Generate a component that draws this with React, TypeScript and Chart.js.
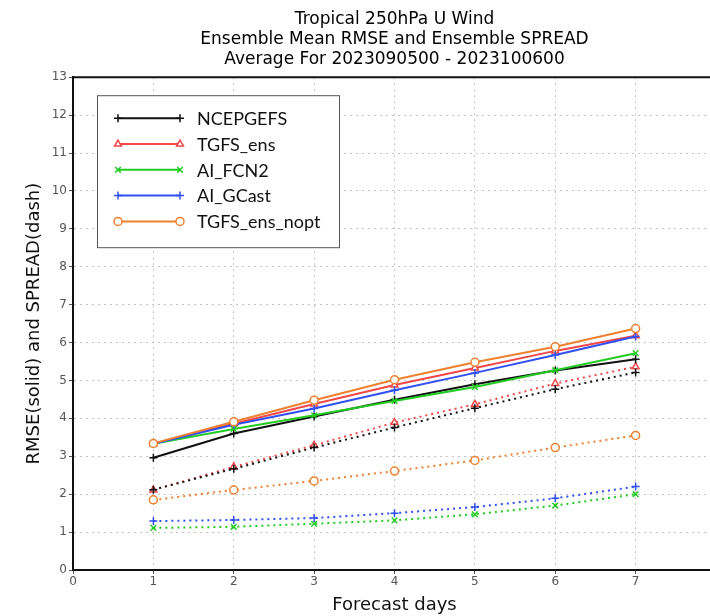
import React, { useEffect, useRef } from 'react';
import { Chart, registerables } from 'chart.js';
import { drawPoint } from 'chart.js/helpers';

Chart.register(...registerables);

const titleLines = [
  'Tropical 250hPa U Wind',
  'Ensemble Mean RMSE and Ensemble SPREAD',
  'Average For 2023090500 - 2023100600',
];
const xTitle = 'Forecast days';
const yTitle = 'RMSE(solid) and SPREAD(dash)';

const days = [1, 2, 3, 4, 5, 6, 7];
const xMin = 0;
const xMax = 8;
const yMin = 0;
const yMax = 13;

const names = ['NCEPGEFS', 'TGFS_ens', 'AI_FCN2', 'AI_GCast', 'TGFS_ens_nopt'];
const colors = ['#111111', '#f04848', '#22cc22', '#3050f0', '#ee8030'];
const markers = ['cross', 'triangle', 'crossRot', 'cross', 'circle'];
const hollow = [false, true, false, false, true];

// RMSE (solid)
const rmseNCEPGEFS = [2.96, 3.6, 4.05, 4.49, 4.9, 5.26, 5.56];
const rmseTGFSens = [3.33, 3.86, 4.38, 4.88, 5.33, 5.78, 6.18];
const rmseAIFCN2 = [3.33, 3.72, 4.08, 4.46, 4.83, 5.27, 5.72];
const rmseAIGCast = [3.33, 3.83, 4.26, 4.74, 5.2, 5.67, 6.16];
const rmseTGFSnopt = [3.34, 3.91, 4.48, 5.02, 5.48, 5.89, 6.37];

// SPREAD (dash)
const sprNCEPGEFS = [2.12, 2.67, 3.23, 3.76, 4.27, 4.77, 5.21];
const sprTGFSens = [2.11, 2.72, 3.29, 3.89, 4.37, 4.92, 5.36];
const sprAIFCN2 = [1.11, 1.14, 1.22, 1.31, 1.47, 1.7, 2.0];
const sprAIGCast = [1.29, 1.32, 1.37, 1.5, 1.66, 1.89, 2.2];
const sprTGFSnopt = [1.85, 2.11, 2.35, 2.61, 2.89, 3.23, 3.55];

const rmseAll = [rmseNCEPGEFS, rmseTGFSens, rmseAIFCN2, rmseAIGCast, rmseTGFSnopt];
const sprAll = [sprNCEPGEFS, sprTGFSens, sprAIFCN2, sprAIGCast, sprTGFSnopt];

const frameAndLegend = {
  id: 'frameAndLegend',
  afterDraw(chart: any) {
    const { ctx, chartArea: a } = chart;
    ctx.save();
    // top frame line
    ctx.strokeStyle = '#111';
    ctx.lineWidth = 2;
    ctx.beginPath();
    ctx.moveTo(a.left, a.top);
    ctx.lineTo(a.right, a.top);
    ctx.stroke();

    // legend box
    const left = a.left + 24;
    const top = a.top + 18;
    const w = 242;
    const h = 152;
    ctx.fillStyle = '#ffffff';
    ctx.fillRect(left, top, w, h);
    ctx.strokeStyle = '#555';
    ctx.lineWidth = 1;
    ctx.strokeRect(left + 0.5, top + 0.5, w, h);

    ctx.font = '18px Lato, "Liberation Sans", sans-serif';
    ctx.textBaseline = 'middle';
    ctx.textAlign = 'left';
    names.forEach((n, i) => {
      const y = top + 23 + i * 25.8;
      const x1 = left + 21;
      const x2 = left + 83;
      ctx.strokeStyle = colors[i];
      ctx.lineWidth = 2;
      ctx.setLineDash([]);
      ctx.beginPath();
      ctx.moveTo(x1, y);
      ctx.lineTo(x2, y);
      ctx.stroke();
      [x1, x2].forEach((x) => {
        ctx.fillStyle = hollow[i] ? '#ffffff' : colors[i];
        ctx.strokeStyle = colors[i];
        ctx.lineWidth = 1.5;
        drawPoint(ctx, { pointStyle: markers[i], radius: 4, rotation: 0, borderWidth: 1.5 }, x, y);
      });
      ctx.fillStyle = '#111';
      ctx.fillText(n, left + 100, y + 1);
    });
    ctx.restore();
  },
};

export default function App() {
  const ref = useRef<HTMLCanvasElement | null>(null);

  useEffect(() => {
    if (!ref.current) return;
    const datasets: any[] = [];
    names.forEach((n, i) => {
      const base = {
        borderColor: colors[i],
        backgroundColor: colors[i],
        pointStyle: markers[i],
        pointRadius: 4,
        pointBorderWidth: 1.5,
        pointBorderColor: colors[i],
        pointBackgroundColor: hollow[i] ? '#ffffff' : colors[i],
        borderWidth: 2,
        tension: 0,
      };
      datasets.push({
        ...base,
        label: n + ' SPREAD',
        data: days.map((d, j) => ({ x: d, y: sprAll[i][j] })),
        borderDash: [2, 4],
        order: 10 + i,
      });
      datasets.push({
        ...base,
        label: n,
        data: days.map((d, j) => ({ x: d, y: rmseAll[i][j] })),
        borderDash: [],
        order: 5 - i,
      });
    });

    const chart = new Chart(ref.current, {
      type: 'line',
      data: { datasets },
      plugins: [frameAndLegend],
      options: {
        animation: false,
        responsive: false,
        devicePixelRatio: 1,
        layout: { padding: { left: 0, right: 14, top: 0, bottom: 0 } },
        plugins: {
          legend: { display: false },
          tooltip: { enabled: false },
          title: {
            display: true,
            fullSize: false,
            text: titleLines,
            color: '#000',
            font: { family: '"DejaVu Sans", sans-serif', size: 17, weight: 'normal', lineHeight: 1.2 },
            padding: { top: 9, bottom: 7 },
          },
        },
        scales: {
          x: {
            type: 'linear',
            min: xMin,
            max: xMax,
            ticks: {
              stepSize: 1,
              color: '#555',
              font: { family: '"DejaVu Sans", sans-serif', size: 12 },
              padding: 1,
              maxRotation: 0,
            },
            grid: {
              color: '#c4c4c4',
              lineWidth: 1,
              tickLength: 4,
              tickColor: '#555',
            },
            border: { color: '#111', width: 2, dash: [2, 4] },
            title: {
              display: true,
              text: xTitle,
              color: '#111',
              font: { family: '"DejaVu Sans", sans-serif', size: 18, lineHeight: 1.2 },
              padding: { top: 0, bottom: 0 },
            },
            afterFit(s: any) {
              s.height = 46;
            },
          },
          y: {
            min: yMin,
            max: yMax,
            ticks: {
              stepSize: 1,
              color: '#555',
              font: { family: '"DejaVu Sans", sans-serif', size: 12 },
              padding: 2,
            },
            grid: {
              color: '#c4c4c4',
              lineWidth: 1,
              tickLength: 4,
              tickColor: '#555',
            },
            border: { color: '#111', width: 2, dash: [2, 4] },
            title: {
              display: true,
              text: yTitle,
              color: '#111',
              font: { family: '"DejaVu Sans", sans-serif', size: 18, lineHeight: 1.2 },
              padding: { top: 24, bottom: 0 },
            },
            afterFit(s: any) {
              s.width = 73;
            },
          },
        },
      },
    });
    return () => chart.destroy();
  }, []);

  return (
    <div
      style={{
        position: 'fixed',
        left: 0,
        top: 0,
        width: 710,
        height: 616,
        overflow: 'hidden',
        background: '#fff',
      }}
    >
      <canvas ref={ref} width={730} height={616} style={{ display: 'block', width: 730, height: 616 }} />
    </div>
  );
}
